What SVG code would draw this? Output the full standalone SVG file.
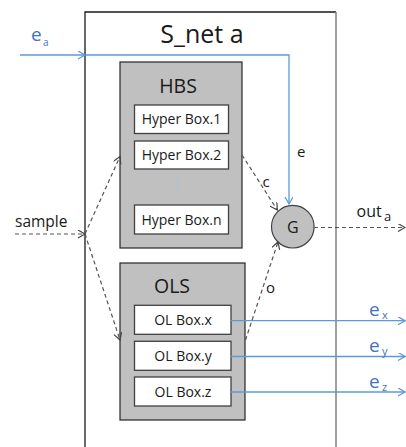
<svg xmlns="http://www.w3.org/2000/svg" width="406" height="447" viewBox="0 0 406 447">
<defs>
<style>
text{font-family:"Open Sans","Liberation Sans",sans-serif;fill:#1a1a1a}
.blue{fill:#4472c4}
.box{fill:#fff;stroke:#404040;stroke-width:1.3}
.grp{fill:#c0c0c0;stroke:#262626;stroke-width:1.2}
.bl{fill:none;stroke:#5b9bd5;stroke-width:1.3}
.dl{fill:none;stroke:#555;stroke-width:1.2;stroke-dasharray:4 3}
.bt{font-size:14px;text-anchor:middle}
</style>
<marker id="ab" markerWidth="10" markerHeight="10" refX="8" refY="4" orient="auto" markerUnits="userSpaceOnUse">
<path d="M1,0 L8,4 L1,8" fill="none" stroke="#5b9bd5" stroke-width="1.3"/>
</marker>
<marker id="ad" markerWidth="10" markerHeight="10" refX="8" refY="4" orient="auto" markerUnits="userSpaceOnUse">
<path d="M1,0 L8,4 L1,8" fill="none" stroke="#444" stroke-width="1.2"/>
</marker>
</defs>
<rect width="406" height="447" fill="#fff"/>
<g id="frame">
<path d="M85,447 V12 H336" fill="none" stroke="#1a1a1a" stroke-width="1.3"/>
<path d="M336,12 V447" fill="none" stroke="#808080" stroke-width="1.5"/>
<text x="202" y="43" font-size="25" text-anchor="middle">S_net a</text>
</g>
<g id="hbs">
<rect class="grp" x="120" y="62" width="122" height="186"/>
<text x="178" y="93" font-size="19.5" text-anchor="middle">HBS</text>
</g>
<g id="hb1"><rect class="box" x="134.5" y="105" width="94" height="28.5"/><text class="bt" x="181.5" y="124">Hyper Box.1</text></g>
<g id="hb2"><rect class="box" x="134.5" y="141" width="94" height="28"/><text class="bt" x="181.5" y="160">Hyper Box.2</text></g>
<path d="M178,177 V198" stroke="#9dc3e6" stroke-width="1" stroke-dasharray="1 1" fill="none"/>
<g id="hbn"><rect class="box" x="134.5" y="205" width="94" height="29"/><text class="bt" x="181.5" y="224.5">Hyper Box.n</text></g>
<g id="ols">
<rect class="grp" x="120" y="263" width="125" height="157"/>
<text x="172" y="293" font-size="19.5" text-anchor="middle">OLS</text>
</g>
<g id="olx"><rect class="box" x="134.5" y="305.3" width="96.5" height="29"/><text class="bt" x="183" y="324.8">OL Box.x</text></g>
<g id="oly"><rect class="box" x="134.5" y="341.3" width="96.5" height="29"/><text class="bt" x="183" y="360.8">OL Box.y</text></g>
<g id="olz"><rect class="box" x="134.5" y="377" width="96.5" height="29"/><text class="bt" x="183" y="396.5">OL Box.z</text></g>
<g id="g">
<circle cx="292.8" cy="226.7" r="21.3" fill="#c0c0c0" stroke="#404040" stroke-width="1.2"/>
<text x="292.8" y="232.5" font-size="16" text-anchor="middle">G</text>
</g>
<g id="connectors">
<path class="bl" d="M20,55 H85" marker-end="url(#ab)"/>
<path class="bl" d="M86,55 H289 V204" marker-end="url(#ab)"/>
<path class="bl" d="M231,320.7 H405" marker-end="url(#ab)"/>
<path class="bl" d="M231,356.5 H405" marker-end="url(#ab)"/>
<path class="bl" d="M231,392 H405" marker-end="url(#ab)"/>
<path class="dl" d="M15,234 H85" marker-end="url(#ad)"/>
<path class="dl" d="M85,234 L120,156.5" marker-end="url(#ad)"/>
<path class="dl" d="M85,234 L120,340" marker-end="url(#ad)"/>
<path class="dl" d="M242,155 L277.3,210" marker-end="url(#ad)"/>
<path class="dl" d="M245.5,340 L278,242" marker-end="url(#ad)"/>
<path class="dl" d="M314,227.5 H405" marker-end="url(#ad)"/>
</g>
<g id="labels">
<text class="blue" x="31" y="40.7" font-size="19">e</text>
<text class="blue" x="43" y="46" font-size="10">a</text>
<text x="297" y="156.7" font-size="15">e</text>
<text x="262.5" y="186.7" font-size="15">c</text>
<text x="266" y="293" font-size="15">o</text>
<text x="15" y="227" font-size="15.5">sample</text>
<text x="356.5" y="216.7" font-size="16">out</text>
<text x="384" y="221" font-size="13">a</text>
<text class="blue" x="369" y="316" font-size="19">e</text>
<text class="blue" x="382" y="319" font-size="11">x</text>
<text class="blue" x="369" y="352" font-size="19">e</text>
<text class="blue" x="382" y="355" font-size="11">y</text>
<text class="blue" x="369" y="387.5" font-size="19">e</text>
<text class="blue" x="382" y="390.5" font-size="11">z</text>
</g>
</svg>
